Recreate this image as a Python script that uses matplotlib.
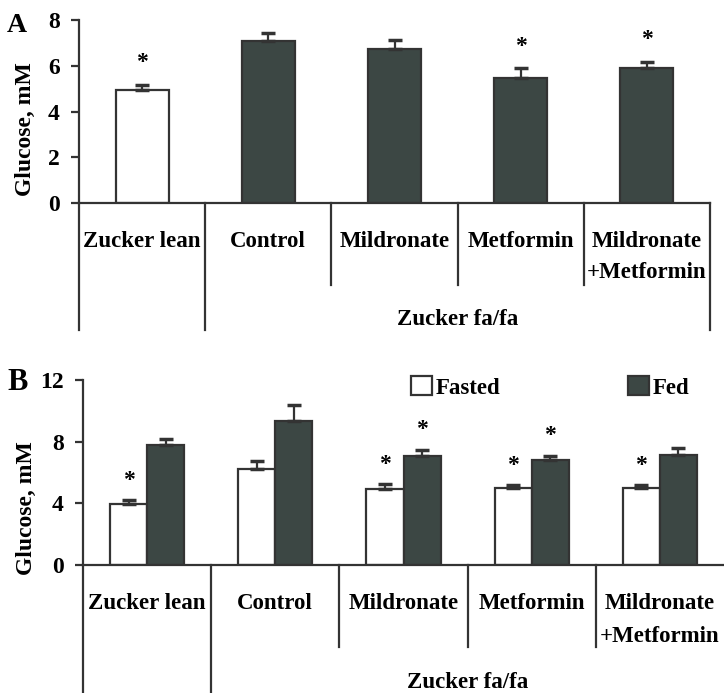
import matplotlib
matplotlib.use("Agg")
import matplotlib.pyplot as plt
import matplotlib.patches as mpatches
import numpy as np

plt.rcParams['font.family'] = ['Liberation Serif', 'DejaVu Serif']
plt.rcParams['font.weight'] = 'bold'
plt.rcParams['axes.labelweight'] = 'bold'

# panel A data
groups = ["Zucker lean", "Control", "Mildronate", "Metformin", "Mildronate\n+Metformin"]
a_mean = [4.95, 7.1, 6.75, 5.45, 5.9]
a_sem = [0.22, 0.35, 0.38, 0.43, 0.27]
a_sig = [True, False, False, True, True]
a_white = [True, False, False, False, False]

# panel B data
b_fasted = [3.95, 6.25, 4.95, 5.0, 5.0]
b_fasted_sem = [0.25, 0.5, 0.3, 0.22, 0.17]
b_fed = [7.8, 9.35, 7.1, 6.8, 7.15]
b_fed_sem = [0.4, 1.05, 0.37, 0.25, 0.42]
b_fasted_sig = [True, False, True, True, True]
b_fed_sig = [False, False, True, True, False]

DARK = '#3c4744'
LINE = '#333333'
W, H = 724, 693

fig = plt.figure(figsize=(W / 100, H / 100), dpi=100)


def px_axes(left, right, top, bottom):
    return fig.add_axes([left / W, 1 - bottom / H, (right - left) / W, (bottom - top) / H])


def style_axes(ax, ymax, yticks, divider_depth, inner_depth, label_xy, skip_right=False):
    ax.set_xlim(-0.5, 4.5)
    ax.set_ylim(0, ymax)
    for s in ['top', 'right']:
        ax.spines[s].set_visible(False)
    for s in ['left', 'bottom']:
        ax.spines[s].set_linewidth(1.6)
        ax.spines[s].set_color(LINE)
    ax.set_yticks(yticks)
    ax.set_xticks([])
    ax.tick_params(axis='y', length=6, width=1.6, color=LINE, pad=8, labelsize=17)
    ax.set_ylabel('Glucose, mM', fontsize=17, fontweight='bold')
    ax.yaxis.set_label_coords(*label_xy)
    tr = ax.get_xaxis_transform()
    for i in range(6):
        x = i - 0.5
        if skip_right and i == 5:
            continue
        depth = inner_depth if i in (2, 3, 4) else divider_depth
        ax.plot([x, x], [0, depth], transform=tr, clip_on=False, color=LINE, lw=1.6)


def star(ax, x, y, dy):
    ax.annotate('*', (x, y), xytext=(0, dy), textcoords='offset points',
                ha='center', va='center', fontsize=17)


def group_labels(ax, first_y, second_y, bottom_y):
    tr = ax.get_xaxis_transform()
    for i, g in enumerate(groups):
        for j, line in enumerate(g.split('\n')):
            ax.text(i, first_y if j == 0 else second_y, line, transform=tr,
                    ha='center', va='baseline', fontsize=16.5)
    ax.text(2.5, bottom_y, 'Zucker fa/fa', transform=tr, ha='center', va='baseline',
            fontsize=16.5)


# ---- panel A ----
axA = px_axes(79, 710, 20, 203)
style_axes(axA, 8, [0, 2, 4, 6, 8], -0.694, -0.448, (-0.068, 0.404))
xA = np.arange(5)
colors = ['white' if w else DARK for w in a_white]
axA.bar(xA, a_mean, width=0.42, color=colors, edgecolor=LINE, linewidth=1.6, zorder=2)
axA.errorbar(xA, a_mean, yerr=[np.zeros(5), a_sem], fmt='none', ecolor=LINE,
             elinewidth=1.6, capsize=5, capthick=2.5, zorder=3)
for i in range(5):
    if a_sig[i]:
        star(axA, xA[i], a_mean[i] + a_sem[i], 16)
group_labels(axA, -0.240, -0.410, -0.667)
fig.text(7 / W, 1 - 25 / H, 'A', fontsize=20, va='center', ha='left')

# ---- panel B ----
axB = px_axes(83, 724, 380, 565)
style_axes(axB, 12, [0, 4, 8, 12], -0.70, -0.443, (-0.072, 0.31), skip_right=True)
xB = np.arange(5)
bw = 0.29
axB.bar(xB - bw / 2, b_fasted, width=bw, color='white', edgecolor=LINE, linewidth=1.6, zorder=2)
axB.bar(xB + bw / 2, b_fed, width=bw, color=DARK, edgecolor=LINE, linewidth=1.6, zorder=2)
axB.errorbar(xB - bw / 2, b_fasted, yerr=[np.zeros(5), b_fasted_sem], fmt='none', ecolor=LINE,
             elinewidth=1.6, capsize=5, capthick=2.5, zorder=3)
axB.errorbar(xB + bw / 2, b_fed, yerr=[np.zeros(5), b_fed_sem], fmt='none', ecolor=LINE,
             elinewidth=1.6, capsize=5, capthick=2.5, zorder=3)
for i in range(5):
    if b_fasted_sig[i]:
        star(axB, xB[i] - bw / 2, b_fasted[i] + b_fasted_sem[i], 14)
    if b_fed_sig[i]:
        star(axB, xB[i] + bw / 2, b_fed[i] + b_fed_sem[i], 15)
group_labels(axB, -0.238, -0.416, -0.665)
fig.text(7 / W, 1 - 383 / H, 'B', fontsize=22, va='center', ha='left')

handles = [mpatches.Patch(facecolor='white', edgecolor=LINE, linewidth=1.6, label='Fasted'),
           mpatches.Patch(facecolor=DARK, edgecolor=LINE, linewidth=1.6, label='Fed')]
axB.legend(handles=handles, loc='upper left', bbox_to_anchor=(0.512, 1.02), ncol=2,
           frameon=False, fontsize=16.5, handlelength=0.9, handleheight=0.9,
           handletextpad=0.15, columnspacing=5.6, borderpad=0, borderaxespad=0)

fig.savefig('out.png', dpi=100)
